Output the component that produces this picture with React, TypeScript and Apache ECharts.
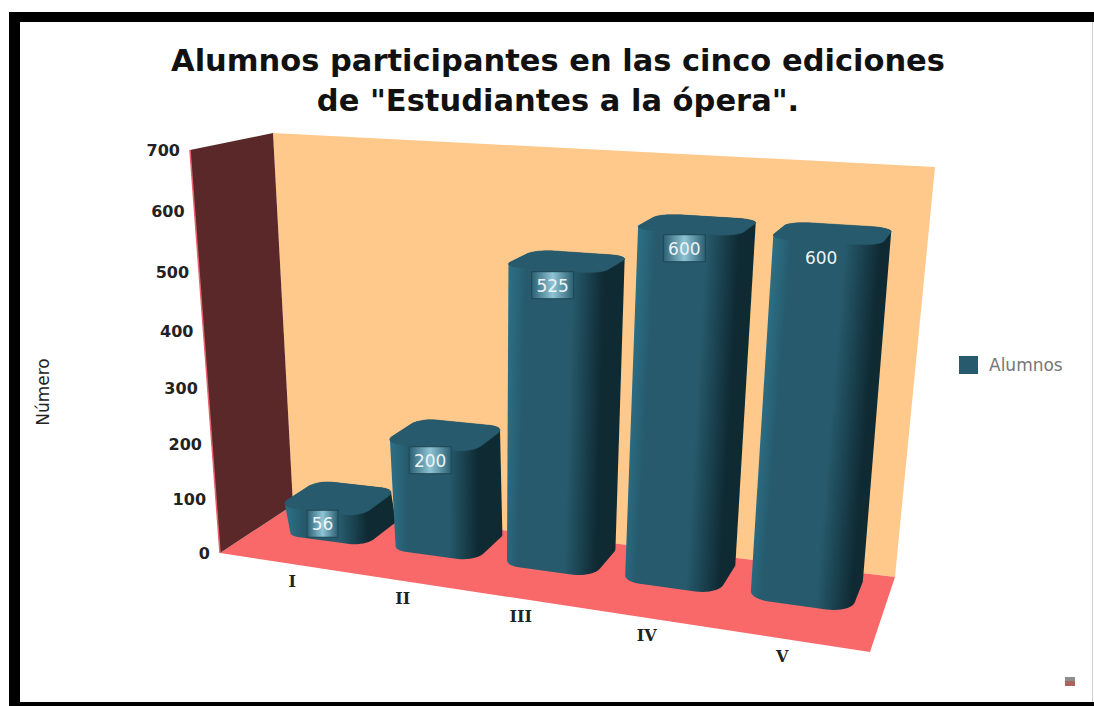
import React, { useEffect, useRef } from "react";
import * as echarts from "echarts";

const categories = ["I", "II", "III", "IV", "V"];
const alumnos = [56, 200, 525, 600, 600];
const labelBoxed = [true, true, true, true, false];
const yTicks = [0, 100, 200, 300, 400, 500, 600, 700];
const titleText = 'Alumnos participantes en las cinco ediciones\nde "Estudiantes a la ópera".';

const GL = 190, GT = 150, GW = 700, GH = 484;
const U0 = 0.0285, US = 0.945, WARP = 0.87;
const BAR_FRAC = 0.78, D0 = 0.43, D1 = 1.0, BASE_DX = 4;
const RU = 0.03, RD = 0.14, PERSP = 1.09;

type Pt = [number, number];
function quad(p0: Pt, p1: Pt, p2: Pt, p3: Pt) {
  const dx1 = p1[0] - p2[0], dx2 = p3[0] - p2[0], sx = p0[0] - p1[0] + p2[0] - p3[0];
  const dy1 = p1[1] - p2[1], dy2 = p3[1] - p2[1], sy = p0[1] - p1[1] + p2[1] - p3[1];
  const den = dx1 * dy2 - dx2 * dy1;
  const g = (sx * dy2 - dx2 * sy) / den, h = (dx1 * sy - sx * dy1) / den;
  const a = p1[0] - p0[0] + g * p1[0], b = p3[0] - p0[0] + h * p3[0], c = p0[0];
  const d = p1[1] - p0[1] + g * p1[1], e = p3[1] - p0[1] + h * p3[1], f = p0[1];
  return (u: number, v: number): Pt => {
    const w = g * u + h * v + 1;
    return [(a * u + b * v + c) / w, (d * u + e * v + f) / w];
  };
}
const floorH = quad([220, 553], [870, 652], [895, 577], [293, 505]);
const topH = quad([190, 150], [913, 194], [935, 167], [273, 133]);
const warp = (t: number) => t / (t + WARP * (1 - t));
function P(u: number, v: number, d: number): Pt {
  const F = floorH(u, d), T = topH(u, d);
  const s = v / (v + PERSP * (1 - v));
  return [F[0] + (T[0] - F[0]) * s, F[1] + (T[1] - F[1]) * s];
}
// rounded footprint of a bar, as [u, d] points
function footprint(u0: number, u1: number, d0: number, d1: number) {
  const out: number[][] = [];
  const arc = (cu: number, cd: number, a0: number) => {
    for (let k = 0; k <= 10; k++) {
      const r = ((a0 + 9 * k) * Math.PI) / 180;
      out.push([cu + RU * Math.cos(r), cd + RD * Math.sin(r)]);
    }
  };
  arc(u0 + RU, d0 + RD, 180);
  arc(u1 - RU, d0 + RD, 270);
  arc(u1 - RU, d1 - RD, 0);
  arc(u0 + RU, d1 - RD, 90);
  return out;
}
function hull(points: Pt[]): Pt[] {
  const pts = points.slice().sort((a, b) => a[0] - b[0] || a[1] - b[1]);
  const cross = (o: Pt, a: Pt, b: Pt) => (a[0] - o[0]) * (b[1] - o[1]) - (a[1] - o[1]) * (b[0] - o[0]);
  const half = (list: Pt[]) => {
    const h: Pt[] = [];
    for (const p of list) {
      while (h.length >= 2 && cross(h[h.length - 2], h[h.length - 1], p) <= 0) h.pop();
      h.push(p);
    }
    h.pop();
    return h;
  };
  return [...half(pts), ...half(pts.slice().reverse())];
}
const norm = (api: any, cat: number, val: number) => {
  const c = api.coord([cat, val]);
  return { t: U0 + (US * (c[0] - GL)) / GW, v: (GT + GH - c[1]) / GH };
};

function renderWalls() {
  const poly = (pts: Pt[], fill: string) => ({ type: "polygon", shape: { points: pts }, style: { fill } });
  return {
    type: "group",
    children: [
      poly([P(0, 0, 1), P(1, 0, 1), P(1, 1, 1), P(0, 1, 1)], "#ffc98b"),
      poly([P(0, 0, 0), P(1, 0, 0), P(1, 0, 1), P(0, 0, 1)], "#f9696a"),
      poly([P(0, 0, 0), P(0, 0, 1), P(0, 1, 1), P(0, 1, 0)], "#5a2829"),
      {
        type: "polyline",
        shape: { points: [P(0, 1, 0), P(0, 0, 0)] },
        style: { stroke: "#e8606a", lineWidth: 1.5, fill: "none" },
      },
    ],
  };
}
function renderBar(params: any, api: any) {
  const i = api.value(0), val = api.value(1);
  const base = norm(api, i, 0), head = norm(api, i, val);
  const half = ((api.size([1, 0])[0] / GW) * US * BAR_FRAC) / 2;
  const u0 = warp(base.t - half), u1 = warp(base.t + half), um = warp(base.t);
  const v = head.v;
  const foot = footprint(u0, u1, D0, D1);
  const bottom = foot.map((p): Pt => {
    const q = P(p[0], 0, p[1]);
    return [q[0] + BASE_DX, q[1]];
  });
  const top = foot.map((p) => P(p[0], v, p[1]));
  const silhouette = hull([...bottom, ...top]);
  // shade across the leaning body, following the projected footprint
  const c0 = P(um, 0, D0), c1 = P(um, v, D0);
  const ex = c1[0] - c0[0], ey = c1[1] - c0[1], len = Math.hypot(ex, ey) || 1;
  const nx = -ey / len, ny = ex / len;
  const along = (p: Pt) => (p[0] - c0[0]) * nx + (p[1] - c0[1]) * ny;
  const ps = silhouette.map(along);
  const lo = Math.min(...ps), hi = Math.max(...ps);
  const frac = (p: Pt) => Math.max(0, Math.min(1, (along(p) - lo) / (hi - lo)));
  const turn0 = frac(P(u1 - RU * 1.3, v / 2, D0));
  const turn1 = Math.max(turn0 + 0.02, frac(P(u1, v / 2, D0 + RD * 0.7)));
  const grad = new echarts.graphic.LinearGradient(
    c0[0] + nx * lo, c0[1] + ny * lo, c0[0] + nx * hi, c0[1] + ny * hi,
    [
      { offset: 0, color: "#2c7086" },
      { offset: 0.07, color: "#2a677c" },
      { offset: 0.16, color: "#265a6c" },
      { offset: turn0, color: "#265a6c" },
      { offset: turn1, color: "#0f2a33" },
      { offset: 1, color: "#0e2a32" },
    ],
    true
  );
  const children: any[] = [
    { type: "polygon", shape: { points: silhouette }, style: { fill: grad } },
    {
      type: "polygon",
      shape: { points: top },
      style: { fill: "#265a6c", stroke: "#265a6c", lineWidth: 0.5 },
    },
  ];
  const t = String(val);
  const anchor = P(um, v, 0.6);
  const cx = anchor[0] - 8, cy = anchor[1] + 21;
  if (labelBoxed[i]) {
    const w = t.length > 2 ? 42 : 31;
    children.push({
      type: "rect",
      shape: { x: cx - w / 2, y: cy - 14, width: w, height: 27 },
      style: {
        fill: new echarts.graphic.LinearGradient(0, 0, 1, 0, [
          { offset: 0, color: "#2a5f72" },
          { offset: 0.5, color: "#8fc4d5" },
          { offset: 1, color: "#2a5f72" },
        ]),
        stroke: "#1d4655",
        lineWidth: 1,
      },
    });
  }
  children.push({
    type: "text",
    style: {
      text: t, x: cx, y: cy, align: "center", verticalAlign: "middle",
      fill: "#eef4f6", font: "17px 'DejaVu Sans'",
    },
  });
  return { type: "group", children };
}
function renderYTick(params: any, api: any) {
  const n = norm(api, 0, api.value(1));
  const p = P(0, n.v, 0);
  return {
    type: "text",
    style: {
      text: String(api.value(1)), x: p[0] - 10, y: p[1], align: "right", verticalAlign: "middle",
      fill: "#222", font: "bold 16px 'DejaVu Sans'",
    },
  };
}
function renderXTick(params: any, api: any) {
  const i = api.value(0);
  const n = norm(api, i, 0);
  const p = P(warp(n.t), 0, 0);
  return {
    type: "text",
    style: {
      text: categories[i], x: p[0] + 4, y: p[1] + 18, align: "center", verticalAlign: "middle",
      fill: "#222", font: "bold 16px 'DejaVu Serif'",
    },
  };
}

export default function App() {
  const ref = useRef<HTMLDivElement>(null);
  useEffect(() => {
    document.body.style.margin = "0";
    const chart = echarts.init(ref.current!, undefined, { renderer: "svg" });
    const decorative = { silent: true, clip: false, legendHoverLink: false };
    chart.setOption({
      animation: false,
      backgroundColor: "#ffffff",
      title: {
        text: titleText,
        left: 553,
        top: 35,
        textAlign: "center",
        textStyle: { fontFamily: "DejaVu Sans", fontWeight: "bold", fontSize: 30.5, lineHeight: 40, color: "#111" },
      },
      legend: {
        data: ["Alumnos"],
        left: 954,
        top: 351,
        icon: "rect",
        itemWidth: 19,
        itemHeight: 18,
        selectedMode: false,
        textStyle: { fontFamily: "DejaVu Sans", fontSize: 17, color: "#777", padding: [0, 0, 0, 6] },
      },
      grid: { left: GL, top: GT, width: GW, height: GH },
      xAxis: { type: "category", data: categories, show: false },
      yAxis: {
        type: "value", min: 0, max: 700, interval: 100,
        name: "Número", nameLocation: "middle", nameGap: GL - 51, nameRotate: 90,
        nameTextStyle: { fontFamily: "DejaVu Sans", fontSize: 17, color: "#222" },
        axisLine: { show: false }, axisTick: { show: false }, axisLabel: { show: false }, splitLine: { show: false },
      },
      graphic: [
        { type: "rect", silent: true, shape: { x: 9, y: 12, width: 1085, height: 10 }, style: { fill: "#000" } },
        { type: "rect", silent: true, shape: { x: 9, y: 12, width: 11, height: 694 }, style: { fill: "#000" } },
        { type: "rect", silent: true, shape: { x: 9, y: 702, width: 1085, height: 4 }, style: { fill: "#000" } },
        { type: "rect", silent: true, shape: { x: 1092, y: 22, width: 1, height: 680 }, style: { fill: "#cfcfcf" } },
        { type: "rect", silent: true, shape: { x: 1065, y: 677, width: 10, height: 4 }, style: { fill: "#8a8f8a" } },
        { type: "rect", silent: true, shape: { x: 1065, y: 681, width: 10, height: 5 }, style: { fill: "#a8645f" } },
      ],
      series: [
        {
          ...decorative, type: "custom", name: "frame", coordinateSystem: "cartesian2d",
          data: [[0, 0]], renderItem: renderWalls, z: 1,
        },
        {
          ...decorative, type: "custom", name: "yticks", coordinateSystem: "cartesian2d",
          data: yTicks.map((t) => [0, t]), encode: { x: 0, y: 1 }, renderItem: renderYTick, z: 2,
        },
        {
          ...decorative, type: "custom", name: "xticks", coordinateSystem: "cartesian2d",
          data: categories.map((c, i) => [i, 0]), encode: { x: 0, y: 1 }, renderItem: renderXTick, z: 2,
        },
        {
          ...decorative, type: "custom", name: "Alumnos", coordinateSystem: "cartesian2d",
          itemStyle: { color: "#265a6c" },
          data: alumnos.map((v, i) => [i, v]), encode: { x: 0, y: 1 }, renderItem: renderBar, z: 3,
        },
      ],
    });
    return () => chart.dispose();
  }, []);
  return <div ref={ref} style={{ width: 1094, height: 706 }} />;
}
